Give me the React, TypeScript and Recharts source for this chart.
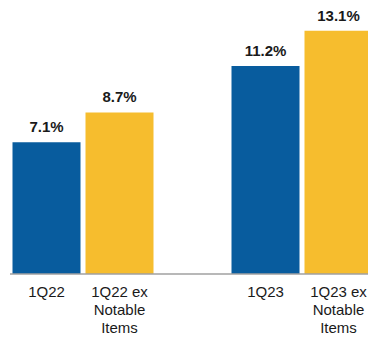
import { BarChart, Bar, XAxis, YAxis, Cell, LabelList } from 'recharts';

const categories = ['1Q22', '1Q22 ex Notable Items', '', '1Q23', '1Q23 ex Notable Items'];
const values = [7.1, 8.7, null, 11.2, 13.1];
const barColors = ['#085C9E', '#F6BD2E', '#ffffff', '#085C9E', '#F6BD2E'];
const tickLines: Record<string, string[]> = {
  '1Q22': ['1Q22'],
  '1Q22 ex Notable Items': ['1Q22 ex', 'Notable', 'Items'],
  '': [],
  '1Q23': ['1Q23'],
  '1Q23 ex Notable Items': ['1Q23 ex', 'Notable', 'Items'],
};

const data = categories.map((name, i) => ({ name: name || ' ', value: values[i] }));

const MultiLineTick = (props: any) => {
  const { x, y, payload } = props;
  const lines = tickLines[payload.value.trim()] || [];
  return (
    <text x={x} y={y} textAnchor="middle" fill="#1a1a1a" fontSize={15} fontFamily="Liberation Sans, Arial, sans-serif">
      {lines.map((line, i) => (
        <tspan key={i} x={x} dy={i === 0 ? 15 : 18}>
          {line}
        </tspan>
      ))}
    </text>
  );
};

const App = () => {
  return (
    <div style={{ position: 'absolute', left: 0, top: 0, width: 368, height: 340, overflow: 'hidden', background: '#fff' }}>
      <BarChart
        width={380}
        height={340}
        data={data}
        margin={{ top: 14, right: 5, bottom: 36, left: 10 }}
        barCategoryGap={2.5}
      >
        <XAxis
          dataKey="name"
          axisLine={{ stroke: '#a0a0a0', strokeWidth: 1.5 }}
          tickLine={false}
          interval={0}
          tick={<MultiLineTick />}
        />
        <YAxis hide domain={[0, 14]} />
        <Bar dataKey="value" isAnimationActive={false}>
          {data.map((_, i) => (
            <Cell key={i} fill={barColors[i]} />
          ))}
          <LabelList
            dataKey="value"
            position="top"
            offset={10}
            formatter={(v: any) => (v == null ? '' : `${Number(v).toFixed(1)}%`)}
            fill="#1a1a1a"
            fontSize={15}
            fontWeight="bold"
            fontFamily="Liberation Sans, Arial, sans-serif"
          />
        </Bar>
      </BarChart>
    </div>
  );
};

export default App;
